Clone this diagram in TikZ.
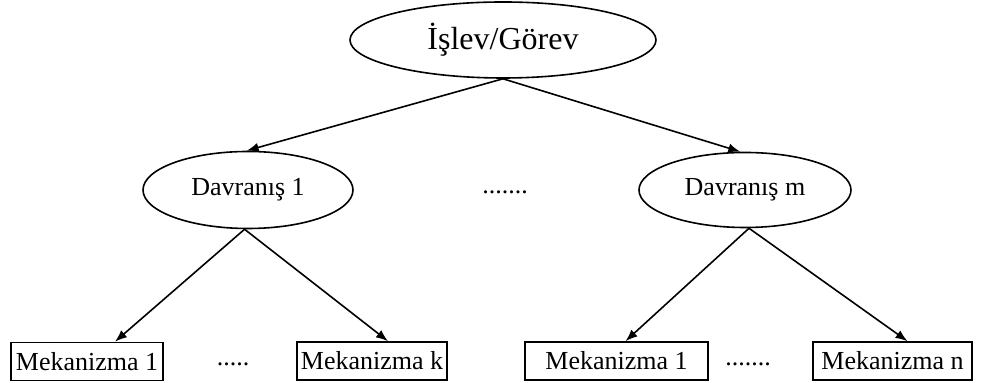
\documentclass[tikz,border=0pt]{standalone}
\usepackage{fontspec}
\setmainfont{Liberation Serif}
\usetikzlibrary{shapes.geometric,arrows.meta}
\begin{document}
\begin{tikzpicture}[x=0.5pt,y=-0.5pt,
  line width=0.8pt,
  goal/.style={ellipse,draw,inner sep=0pt,font=\fontsize{16}{19}\selectfont},
  behaviour/.style={ellipse,draw,inner sep=0pt,font=\fontsize{13}{15}\selectfont},
  mech/.style={rectangle,draw,inner sep=0pt,minimum height=19pt,font=\fontsize{13}{15}\selectfont},
  gap/.style={inner sep=0pt,font=\fontsize{13}{15}\selectfont},
  link/.style={-{Latex[length=6pt,width=4.6pt]}}]
\useasboundingbox (0,0) rectangle (982,383);

% top level
\node[goal,minimum width=153pt,minimum height=38pt] (top) at (503,40) {İşlev/Görev};

% behaviours
\node[behaviour,minimum width=105pt,minimum height=38.5pt] (d1) at (248,190) {Davranış 1};
\node[behaviour,minimum width=106pt,minimum height=37.5pt] (dm) at (745,190) {Davranış m};
\node[gap] (dmid) at (505,192) {.......};

% mechanisms
\node[mech,minimum width=76pt] (m1) at (87,361.5) {Mekanizma 1};
\node[mech,minimum width=75pt] (mk) at (372,361) {Mekanizma k};
\node[mech,minimum width=91.5pt] (m1b) at (616.5,361) {Mekanizma 1};
\node[mech,minimum width=79.5pt] (mn) at (892.5,361) {Mekanizma n};
\node[gap] (dl) at (233,364) {.....};
\node[gap] (dr) at (748,364) {.......};

% connections
\draw[link] (top.south) -- (d1.92);
\draw[link] (top.south) -- (dm.97);
\draw[link] (d1.265) -- ([xshift=14pt]m1.north);
\draw[link] (d1.265) -- ([xshift=8pt]mk.north);
\draw[link] (dm.276) -- ([xshift=4.5pt]m1b.north);
\draw[link] (dm.276) -- ([xshift=7.5pt]mn.north);
\end{tikzpicture}
\end{document}
